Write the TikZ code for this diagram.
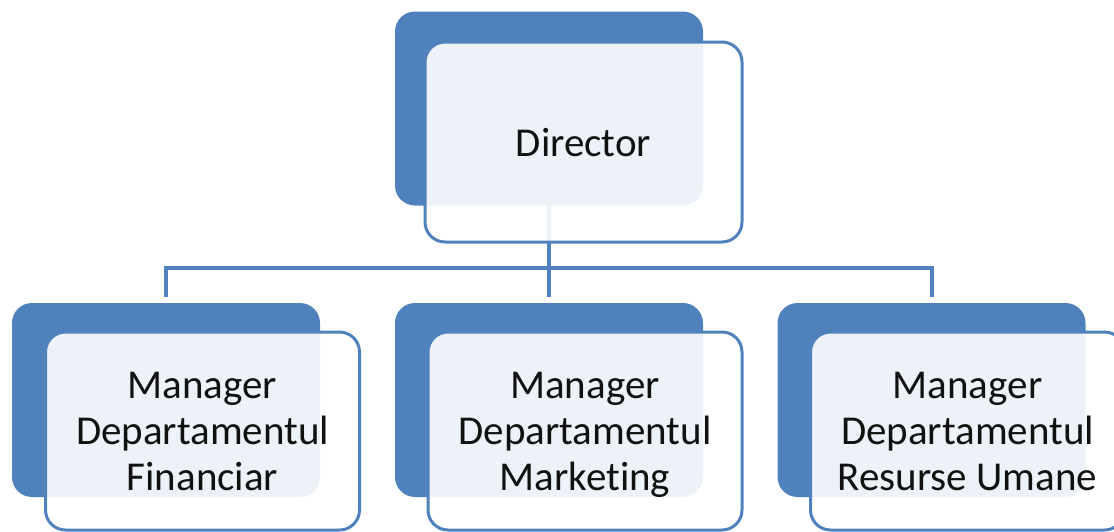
\documentclass[tikz,border=0pt]{standalone}
\usepackage{fontspec}
\setmainfont[Ligatures=NoCommon]{Carlito}
\definecolor{accent}{HTML}{4F81BD}
\definecolor{txt}{HTML}{111111}
\tikzset{
  backbox/.style={fill=accent, draw=none, rounded corners=20pt, minimum width=308pt, minimum height=194pt, inner sep=0pt},
  frontbox/.style={fill=white, fill opacity=0.9, text opacity=1, draw=accent, line width=3pt, rounded corners=20pt,
     minimum width=314pt, minimum height=198pt, inner sep=0pt, align=center, text=txt, text depth=0pt,
     font=\fontsize{41}{46}\selectfont},
  conn/.style={draw=accent, line width=4pt},
}
\begin{document}
\begin{tikzpicture}[x=1pt,y=-1pt]
\useasboundingbox (0,0) rectangle (1114,531);
% back boxes
\node[backbox] (db) at (549,108.5) {};
\node[backbox] (m1b) at (166,400) {};
\node[backbox] (m2b) at (549,400) {};
\node[backbox] (m3b) at (931.5,400) {};
% connectors
\coordinate (bus) at (549,268);
\draw[conn] (db.south) -- (bus);
\draw[conn] (bus) -| ([yshift=6pt]m1b.north);
\draw[conn] (bus) -| ([yshift=6pt]m3b.north);
\draw[conn] (bus) -- ([yshift=6pt]m2b.north);
% front boxes
\node[frontbox, minimum width=317pt, minimum height=200pt] (d) at (583.5,142) {Director};
\node[frontbox] (m1) at (202.5,431) {Manager\\Departamentul\\Financiar};
\node[frontbox] (m2) at (585,431) {Manager\\Departamentul\\Marketing};
\node[frontbox] (m3) at (967.5,431) {Manager\\Departamentul\\Resurse Umane};
\end{tikzpicture}
\end{document}
